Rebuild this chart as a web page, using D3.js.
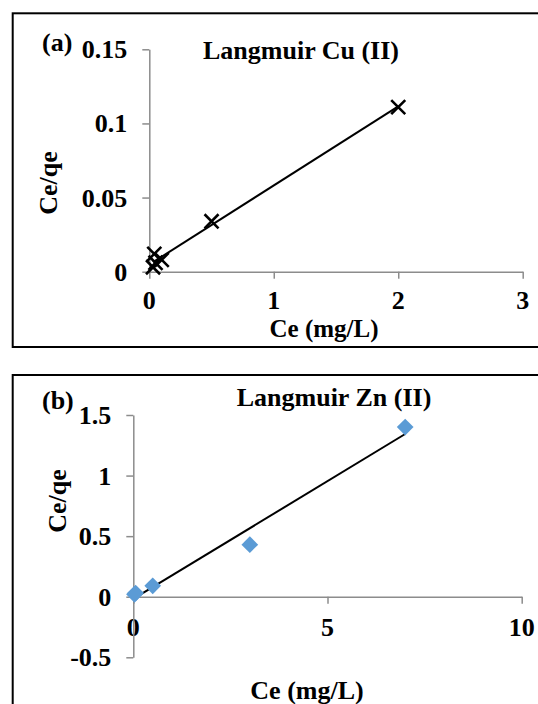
<!DOCTYPE html>
<html>
<head>
<meta charset="utf-8">
<script src="https://cdn.jsdelivr.net/npm/d3@7"></script>
<style>
  html, body { margin: 0; padding: 0; background: #fff; }
  svg { display: block; }
  text { font-family: "Liberation Serif", "Times New Roman", Times, serif; font-weight: 700; }
</style>
</head>
<body>
<script>
// Langmuir linear plot for Cu(II): Ce (mg/L) against Ce/qe
const cuCe    = [0.03, 0.04, 0.05, 0.1, 0.5, 2.0];
const cuRatio = [0.003, 0.012, 0.006, 0.008, 0.034, 0.111];
const cuXTicks = [0, 1, 2, 3];
const cuXTickLabels = ["0", "1", "2", "3"];
const cuYTicks = [0, 0.05, 0.1, 0.15];
const cuYTickLabels = ["0", "0.05", "0.1", "0.15"];

// Langmuir linear plot for Zn(II)
const znCe    = [0.03, 0.06, 0.5, 3.0, 7.0];
const znRatio = [0.02, 0.03, 0.09, 0.43, 1.4];
const znXTicks = [0, 5, 10];
const znXTickLabels = ["0", "5", "10"];
const znYTicks = [-0.5, 0, 0.5, 1, 1.5];
const znYTickLabels = ["-0.5", "0", "0.5", "1", "1.5"];

const W = 538, H = 704;
const FS = 26;       // font size for all text
const AXIS = "#8c8c8c";

const svg = d3.select("body").append("svg")
  .attr("width", W).attr("height", H)
  .attr("viewBox", `0 0 ${W} ${H}`);

function text(g, str, x, y, anchor, rotate, size) {
  return g.append("text")
    .attr("transform", rotate ? `translate(${x},${y}) rotate(-90)` : `translate(${x},${y})`)
    .attr("text-anchor", anchor || "middle")
    .attr("font-size", size || FS)
    .attr("fill", "#000")
    .text(str);
}

// least-squares straight line
function linearFit(xs, ys) {
  const n = xs.length;
  const mx = d3.mean(xs), my = d3.mean(ys);
  let sxy = 0, sxx = 0;
  for (let i = 0; i < n; i++) {
    sxy += (xs[i] - mx) * (ys[i] - my);
    sxx += (xs[i] - mx) * (xs[i] - mx);
  }
  const slope = sxy / sxx;
  return { slope, intercept: my - slope * mx };
}

function panel(cfg) {
  const g = svg.append("g");

  // frame
  g.append("rect")
    .attr("x", cfg.box[0]).attr("y", cfg.box[1])
    .attr("width", cfg.box[2]).attr("height", cfg.box[3])
    .attr("fill", "none").attr("stroke", "#000").attr("stroke-width", 2);

  const x = d3.scaleLinear().domain(cfg.xDomain).range(cfg.xRange);
  const y = d3.scaleLinear().domain(cfg.yDomain).range(cfg.yRange);

  // tick labels
  cfg.yTicks.forEach((v, i) => text(g, cfg.yTickLabels[i], x(0) - 22, y(v) + 9, "end"));
  cfg.xTicks.forEach((v, i) => text(g, cfg.xTickLabels[i], x(v), cfg.xLabelBase, "middle"));

  // axes
  const ax = g.append("g").attr("transform", `translate(0,${y(0)})`)
    .call(d3.axisBottom(x).tickValues(cfg.xTicks).tickSize(7).tickSizeOuter(0).tickFormat(""));
  const ay = g.append("g").attr("transform", `translate(${x(0)},0)`)
    .call(d3.axisLeft(y).tickValues(cfg.yTicks).tickSize(7).tickSizeOuter(0).tickFormat(""));
  [ax, ay].forEach(a => {
    a.selectAll("path,line").attr("stroke", AXIS).attr("stroke-width", 1.5);
  });

  // trendline
  const fit = linearFit(cfg.xs, cfg.ys);
  const x0 = d3.min(cfg.xs), x1 = d3.max(cfg.xs);
  g.append("line")
    .attr("x1", x(x0)).attr("y1", y(fit.intercept + fit.slope * x0))
    .attr("x2", x(x1)).attr("y2", y(fit.intercept + fit.slope * x1))
    .attr("stroke", "#000").attr("stroke-width", 2);

  // markers
  const pts = cfg.xs.map((v, i) => [v, cfg.ys[i]]);
  if (cfg.marker === "cross") {
    g.selectAll("path.pt").data(pts).join("path")
      .attr("class", "pt")
      .attr("transform", d => `translate(${x(d[0])},${y(d[1])})`)
      .attr("d", d3.symbol(d3.symbolTimes, 130)())
      .attr("fill", "none").attr("stroke", "#000").attr("stroke-width", 2.6);
  } else {
    g.selectAll("path.pt").data(pts).join("path")
      .attr("class", "pt")
      .attr("transform", d => `translate(${x(d[0])},${y(d[1])}) rotate(45)`)
      .attr("d", d3.symbol(d3.symbolSquare, 140)())
      .attr("fill", "#5b9bd5");
  }

  // titles
  text(g, cfg.tag, cfg.tagPos[0], cfg.tagPos[1], "start");
  text(g, cfg.title, cfg.titlePos[0], cfg.titlePos[1], "middle");
  text(g, "Ce (mg/L)", cfg.xTitlePos[0], cfg.xTitlePos[1], "middle", false, cfg.xTitleSize);
  text(g, "Ce/qe", cfg.yTitlePos[0], cfg.yTitlePos[1], "middle", true);
}

panel({
  box: [12.7, 13.3, 620, 333.7],
  xDomain: [0, 3], xRange: [149.3, 522.7],
  yDomain: [0, 0.15], yRange: [271.7, 49.3],
  xTicks: cuXTicks, xTickLabels: cuXTickLabels,
  yTicks: cuYTicks, yTickLabels: cuYTickLabels,
  xLabelBase: 309,
  xs: cuCe, ys: cuRatio, marker: "cross",
  tag: "(a)", tagPos: [42, 51],
  title: "Langmuir Cu (II)", titlePos: [301, 59],
  xTitlePos: [324, 337], xTitleSize: 25,
  yTitlePos: [57, 183]
});

panel({
  box: [12.7, 375, 620, 400],
  xDomain: [0, 10], xRange: [133.3, 521.7],
  yDomain: [-0.5, 1.5], yRange: [657.3, 415],
  xTicks: znXTicks, xTickLabels: znXTickLabels,
  yTicks: znYTicks, yTickLabels: znYTickLabels,
  xLabelBase: 636,
  xs: znCe, ys: znRatio, marker: "diamond",
  tag: "(b)", tagPos: [42, 409],
  title: "Langmuir Zn (II)", titlePos: [334, 406],
  xTitlePos: [307, 699], xTitleSize: 26,
  yTitlePos: [66, 501]
});
</script>
</body>
</html>
